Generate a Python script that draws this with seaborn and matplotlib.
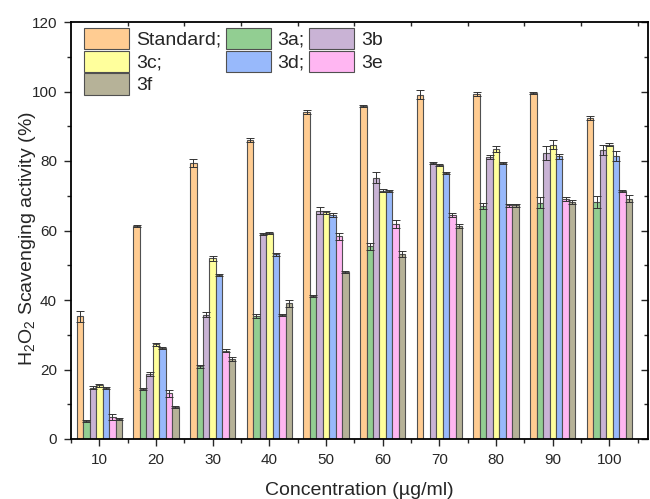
import numpy as np
import pandas as pd
import matplotlib
matplotlib.use('Agg')
import matplotlib.pyplot as plt
from matplotlib.ticker import MultipleLocator, FixedLocator
import seaborn as sns

# concentrations (ug/ml)
concentrations = [10, 20, 30, 40, 50, 60, 70, 80, 90, 100]

# scavenging activity (%)
standard = [35.3, 61.3, 79.4, 86.0, 94.1, 95.8, 99.1, 99.3, 99.6, 92.4]
c3a = [5.3, 14.4, 20.9, 35.3, 41.1, 55.4, np.nan, 67.0, 68.0, 68.2]
c3b = [14.8, 18.7, 35.8, 59.0, 65.7, 75.2, 79.3, 81.1, 82.2, 83.2]
c3c = [15.5, 27.2, 52.0, 59.4, 65.2, 71.5, 78.9, 83.4, 84.7, 84.7]
c3d = [14.7, 26.3, 47.3, 53.1, 64.4, 71.3, 76.5, 79.5, 81.3, 81.5]
c3e = [6.4, 13.2, 25.4, 35.8, 58.4, 61.9, 64.4, 67.2, 69.1, 71.4]
c3f = [5.8, 9.1, 23.0, 39.0, 48.1, 53.3, 61.2, 67.2, 68.1, 69.1]

# error bars (%)
err_standard = [1.5, 0.4, 1.2, 0.6, 0.5, 0.3, 1.3, 0.5, 0.3, 0.6]
err_3a = [0.3, 0.4, 0.4, 0.6, 0.3, 1.0, np.nan, 0.8, 1.5, 1.8]
err_3b = [0.5, 0.6, 0.8, 0.4, 1.0, 1.5, 0.3, 0.5, 2.0, 1.5]
err_3c = [0.4, 0.5, 0.8, 0.3, 0.5, 0.3, 0.3, 0.8, 1.2, 0.5]
err_3d = [0.4, 0.3, 0.3, 0.5, 0.6, 0.3, 0.3, 0.3, 0.6, 1.5]
err_3e = [0.8, 1.0, 0.5, 0.3, 1.0, 1.2, 0.6, 0.3, 0.6, 0.3]
err_3f = [0.3, 0.3, 0.6, 1.0, 0.3, 0.8, 0.6, 0.3, 0.6, 1.0]

names = ['Standard', '3a', '3b', '3c', '3d', '3e', '3f']
values = [standard, c3a, c3b, c3c, c3d, c3e, c3f]
errors = [err_standard, err_3a, err_3b, err_3c, err_3d, err_3e, err_3f]
colors = ['#FFCC92', '#92CE92', '#C9B3D5', '#FFFF9C', '#98B9FB', '#FFB6F2', '#B6B298']

rows = []
for name, vals in zip(names, values):
    for c, v in zip(concentrations, vals):
        rows.append({'conc': c, 'value': v, 'compound': name})
df = pd.DataFrame(rows)

sns.set_style('ticks')
plt.rcParams['font.family'] = ['Liberation Sans', 'DejaVu Sans']
plt.rcParams['mathtext.fontset'] = 'custom'
plt.rcParams['mathtext.rm'] = 'Liberation Sans'
plt.rcParams['mathtext.it'] = 'Liberation Sans:italic'

fig, ax = plt.subplots(figsize=(6.5, 4.99), dpi=100)
fig.subplots_adjust(left=71 / 650, right=648 / 650, top=1 - 22 / 499, bottom=1 - 439 / 499)

sns.barplot(data=df, x='conc', y='value', hue='compound', hue_order=names,
            palette=dict(zip(names, colors)), errorbar=None, width=0.8,
            saturation=1, edgecolor='#505050', linewidth=0.8, ax=ax)

# error bars on each drawn bar
err_map = dict(zip(names, errors))
for container, name in zip(ax.containers, names):
    xs, ys, es = [], [], []
    for bar in container:
        h = bar.get_height()
        if np.isnan(h):
            continue
        xc = bar.get_x() + bar.get_width() / 2
        ci = int(round(xc))
        xs.append(xc)
        ys.append(h)
        es.append(err_map[name][ci])
    ax.errorbar(xs, ys, yerr=es, fmt='none', ecolor='#333333',
                elinewidth=0.7, capsize=2.8, capthick=0.7)

ax.set_xlim(-0.5, 9.68)
ax.set_ylim(0, 120)
ax.yaxis.set_major_locator(MultipleLocator(20))
ax.yaxis.set_minor_locator(MultipleLocator(10))
ax.xaxis.set_minor_locator(FixedLocator(np.arange(-0.5, 10, 1)))
ax.tick_params(which='major', direction='out', length=5, width=1, labelsize=11, pad=5)
ax.tick_params(which='minor', direction='out', length=3, width=1)
for s in ax.spines.values():
    s.set_visible(True)
    s.set_linewidth(1.3)
    s.set_color('black')

top = ax.secondary_xaxis('top')
top.set_xticks(np.arange(0.5, 9.6, 1))
top.tick_params(direction='in', length=3, width=1, labeltop=False)
top.spines['top'].set_visible(False)
right = ax.secondary_yaxis('right')
right.set_yticks(np.arange(0, 121, 20))
right.yaxis.set_minor_locator(MultipleLocator(10))
right.tick_params(which='major', direction='in', length=5, width=1, labelright=False)
right.tick_params(which='minor', direction='in', length=3, width=1)
right.spines['right'].set_visible(False)

ax.set_xlabel('Concentration (µg/ml)', fontsize=14, labelpad=11)
ax.set_ylabel('H$_2$O$_2$ Scavenging activity (%)', fontsize=14)
ax.yaxis.set_label_coords(-0.058, 0.48)

handles, labels = ax.get_legend_handles_labels()
order = [0, 3, 6, 1, 4, 2, 5]
leg_labels = ['Standard;', '3c;', '3f', '3a;', '3d;', '3b', '3e']
ax.legend([handles[i] for i in order], leg_labels, ncol=3, loc='upper left',
          frameon=False, fontsize=14, handlelength=2.3, handleheight=1.3,
          labelspacing=0.08, columnspacing=0.25, handletextpad=0.35,
          borderaxespad=0.1, borderpad=0.2, bbox_to_anchor=(0.013, 1.0))

fig.savefig('out.png', dpi=100)
